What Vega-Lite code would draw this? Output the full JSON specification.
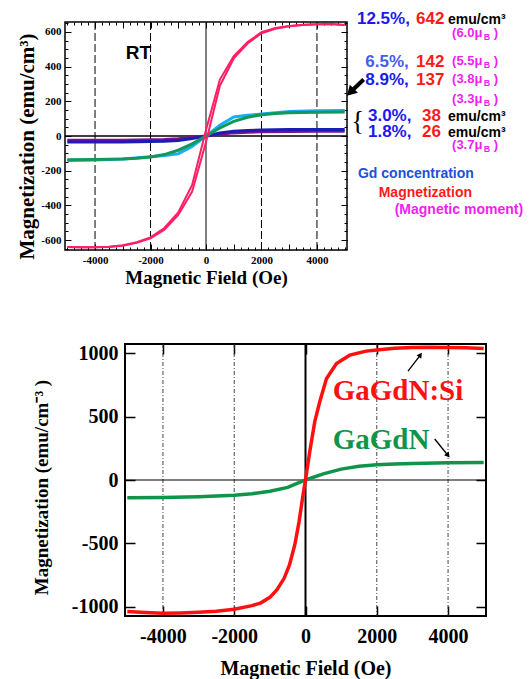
{
  "$schema": "https://vega.github.io/schema/vega-lite/v6.json",
  "background": "white",
  "padding": {"left": 15, "top": 9, "right": 0, "bottom": 0},
  "spacing": 54,
  "config": {
    "axis": {"domain": false, "grid": false, "tickColor": "black", "labelColor": "black", "titleColor": "black", "labelFont": "Liberation Serif", "titleFont": "Liberation Serif", "labelFontWeight": "bold", "titleFontWeight": "bold", "labelOverlap": false, "labelFlush": false, "labelBound": false},
    "text": {"font": "Liberation Sans", "fontWeight": "bold"}
  },
  "datasets": {
    "tgrid": [{"H": -4000}, {"H": -2000}, {"H": 2000}, {"H": 4000}],
    "zero": [{"H": 0, "M": 0}],
    "tcurves": [
      {"s": "u", "H": -5000, "M": -24}, {"s": "u", "H": -4000, "M": -25}, {"s": "u", "H": -3000, "M": -24}, {"s": "u", "H": -2000, "M": -22}, {"s": "u", "H": -1500, "M": -20}, {"s": "u", "H": -1000, "M": -16}, {"s": "u", "H": -500, "M": -9}, {"s": "u", "H": 0, "M": 0}, {"s": "u", "H": 500, "M": 10}, {"s": "u", "H": 1000, "M": 18}, {"s": "u", "H": 1500, "M": 22}, {"s": "u", "H": 2000, "M": 24}, {"s": "u", "H": 3000, "M": 26}, {"s": "u", "H": 4000, "M": 27}, {"s": "u", "H": 5000, "M": 28},
      {"s": "b", "H": -5000, "M": -35}, {"s": "b", "H": -4000, "M": -35}, {"s": "b", "H": -3000, "M": -34}, {"s": "b", "H": -2000, "M": -32}, {"s": "b", "H": -1500, "M": -30}, {"s": "b", "H": -1000, "M": -26}, {"s": "b", "H": -500, "M": -15}, {"s": "b", "H": 0, "M": 0}, {"s": "b", "H": 500, "M": 17}, {"s": "b", "H": 1000, "M": 28}, {"s": "b", "H": 1500, "M": 32}, {"s": "b", "H": 2000, "M": 34}, {"s": "b", "H": 3000, "M": 37}, {"s": "b", "H": 4000, "M": 38}, {"s": "b", "H": 5000, "M": 38},
      {"s": "c", "H": -5000, "M": -141}, {"s": "c", "H": -4000, "M": -139}, {"s": "c", "H": -3000, "M": -133}, {"s": "c", "H": -2000, "M": -120}, {"s": "c", "H": -1500, "M": -112}, {"s": "c", "H": -1000, "M": -103}, {"s": "c", "H": -500, "M": -60}, {"s": "c", "H": 0, "M": 0}, {"s": "c", "H": 500, "M": 62}, {"s": "c", "H": 1000, "M": 110}, {"s": "c", "H": 1500, "M": 119}, {"s": "c", "H": 2000, "M": 127}, {"s": "c", "H": 3000, "M": 141}, {"s": "c", "H": 4000, "M": 146}, {"s": "c", "H": 5000, "M": 147},
      {"s": "g", "H": -5000, "M": -137}, {"s": "g", "H": -4000, "M": -136}, {"s": "g", "H": -3000, "M": -132}, {"s": "g", "H": -2500, "M": -128}, {"s": "g", "H": -2000, "M": -121}, {"s": "g", "H": -1500, "M": -107}, {"s": "g", "H": -1000, "M": -82}, {"s": "g", "H": -500, "M": -45}, {"s": "g", "H": 0, "M": 0}, {"s": "g", "H": 500, "M": 46}, {"s": "g", "H": 1000, "M": 84}, {"s": "g", "H": 1500, "M": 108}, {"s": "g", "H": 2000, "M": 122}, {"s": "g", "H": 2500, "M": 130}, {"s": "g", "H": 3000, "M": 134}, {"s": "g", "H": 4000, "M": 137}, {"s": "g", "H": 5000, "M": 138},
      {"s": "p", "b": "a", "H": -5000, "M": -640}, {"s": "p", "b": "a", "H": -4500, "M": -641}, {"s": "p", "b": "a", "H": -4000, "M": -641}, {"s": "p", "b": "a", "H": -3500, "M": -638}, {"s": "p", "b": "a", "H": -3000, "M": -630}, {"s": "p", "b": "a", "H": -2500, "M": -612}, {"s": "p", "b": "a", "H": -2000, "M": -584}, {"s": "p", "b": "a", "H": -1500, "M": -530}, {"s": "p", "b": "a", "H": -1000, "M": -440}, {"s": "p", "b": "a", "H": -500, "M": -282}, {"s": "p", "b": "a", "H": 0, "M": 35}, {"s": "p", "b": "a", "H": 500, "M": 325}, {"s": "p", "b": "a", "H": 1000, "M": 460}, {"s": "p", "b": "a", "H": 1500, "M": 541}, {"s": "p", "b": "a", "H": 2000, "M": 598}, {"s": "p", "b": "a", "H": 2500, "M": 622}, {"s": "p", "b": "a", "H": 3000, "M": 634}, {"s": "p", "b": "a", "H": 3500, "M": 641}, {"s": "p", "b": "a", "H": 4000, "M": 644}, {"s": "p", "b": "a", "H": 4500, "M": 645}, {"s": "p", "b": "a", "H": 5000, "M": 640},
      {"s": "p", "b": "b", "H": -5000, "M": -640}, {"s": "p", "b": "b", "H": -4500, "M": -641}, {"s": "p", "b": "b", "H": -4000, "M": -641}, {"s": "p", "b": "b", "H": -3500, "M": -639}, {"s": "p", "b": "b", "H": -3000, "M": -632}, {"s": "p", "b": "b", "H": -2500, "M": -616}, {"s": "p", "b": "b", "H": -2000, "M": -590}, {"s": "p", "b": "b", "H": -1500, "M": -540}, {"s": "p", "b": "b", "H": -1000, "M": -455}, {"s": "p", "b": "b", "H": -500, "M": -320}, {"s": "p", "b": "b", "H": 0, "M": -35}, {"s": "p", "b": "b", "H": 500, "M": 290}, {"s": "p", "b": "b", "H": 1000, "M": 447}, {"s": "p", "b": "b", "H": 1500, "M": 533}, {"s": "p", "b": "b", "H": 2000, "M": 592}, {"s": "p", "b": "b", "H": 2500, "M": 618}, {"s": "p", "b": "b", "H": 3000, "M": 632}, {"s": "p", "b": "b", "H": 3500, "M": 640}, {"s": "p", "b": "b", "H": 4000, "M": 644}, {"s": "p", "b": "b", "H": 4500, "M": 645}, {"s": "p", "b": "b", "H": 5000, "M": 640}
    ],
    "t17": [
      {"t": "12.5%,", "H": 5442, "M": 646, "r": "conc"},
      {"t": "642", "H": 7571, "M": 646, "r": "mag"},
      {"t": "6.5%,", "H": 5742, "M": 397, "r": "conc2"},
      {"t": "142", "H": 7571, "M": 397, "r": "mag"},
      {"t": "8.9%,", "H": 5742, "M": 295, "r": "conc"},
      {"t": "137", "H": 7571, "M": 295, "r": "mag"},
      {"t": "3.0%,", "H": 5839, "M": 86, "r": "conc"},
      {"t": "38", "H": 7787, "M": 86, "r": "mag"},
      {"t": "1.8%,", "H": 5839, "M": -6, "r": "conc"},
      {"t": "26", "H": 7787, "M": -6, "r": "mag"}
    ],
    "t14": [
      {"t": "emu/cm³", "H": 8726, "M": 646, "r": "unit"},
      {"t": "emu/cm³", "H": 8726, "M": 86, "r": "unit"},
      {"t": "emu/cm³", "H": 8726, "M": -6, "r": "unit"},
      {"t": "Gd concentration", "H": 5478, "M": -242, "r": "legc"},
      {"t": "Magnetization", "H": 6225, "M": -351, "r": "legm"},
      {"t": "(Magnetic moment)", "H": 6803, "M": -449, "r": "legmom"}
    ],
    "t13": [
      {"t": "(6.0μ", "H": 8870, "M": 570}, {"t": ")", "H": 10375, "M": 570},
      {"t": "(5.5μ", "H": 8870, "M": 408}, {"t": ")", "H": 10375, "M": 408},
      {"t": "(3.8μ", "H": 8870, "M": 307}, {"t": ")", "H": 10375, "M": 307},
      {"t": "(3.3μ", "H": 8870, "M": 190}, {"t": ")", "H": 10375, "M": 190},
      {"t": "(3.7μ", "H": 8870, "M": -75}, {"t": ")", "H": 10375, "M": -75}
    ],
    "tsub": [
      {"t": "B", "H": 10015, "M": 570}, {"t": "B", "H": 10015, "M": 408}, {"t": "B", "H": 10015, "M": 307}, {"t": "B", "H": 10015, "M": 190}, {"t": "B", "H": 10015, "M": -75}
    ],
    "trt": [{"t": "RT", "H": -2894, "M": 443}],
    "tbrace": [{"t": "{", "H": 5236, "M": 81}],
    "tarrow": [{"H": 5684, "M": 326, "H2": 5247, "M2": 259}],
    "thead": [{"H": 5247, "M": 259}],
    "bgrid": [{"H": -4000}, {"H": -2000}, {"H": 2000}, {"H": 4000}],
    "bcurves": [
      {"s": "GaGdN", "H": -5000, "M": -140}, {"s": "GaGdN", "H": -4000, "M": -137}, {"s": "GaGdN", "H": -3000, "M": -132}, {"s": "GaGdN", "H": -2500, "M": -127}, {"s": "GaGdN", "H": -2000, "M": -121}, {"s": "GaGdN", "H": -1500, "M": -108}, {"s": "GaGdN", "H": -1000, "M": -88}, {"s": "GaGdN", "H": -500, "M": -58}, {"s": "GaGdN", "H": 0, "M": 0}, {"s": "GaGdN", "H": 500, "M": 48}, {"s": "GaGdN", "H": 1000, "M": 86}, {"s": "GaGdN", "H": 1500, "M": 108}, {"s": "GaGdN", "H": 2000, "M": 120}, {"s": "GaGdN", "H": 2500, "M": 127}, {"s": "GaGdN", "H": 3000, "M": 131}, {"s": "GaGdN", "H": 4000, "M": 136}, {"s": "GaGdN", "H": 5000, "M": 137},
      {"s": "GaGdN:Si", "H": -5000, "M": -1037}, {"s": "GaGdN:Si", "H": -4500, "M": -1045}, {"s": "GaGdN:Si", "H": -4000, "M": -1050}, {"s": "GaGdN:Si", "H": -3500, "M": -1048}, {"s": "GaGdN:Si", "H": -3000, "M": -1043}, {"s": "GaGdN:Si", "H": -2500, "M": -1035}, {"s": "GaGdN:Si", "H": -2000, "M": -1018}, {"s": "GaGdN:Si", "H": -1500, "M": -990}, {"s": "GaGdN:Si", "H": -1250, "M": -968}, {"s": "GaGdN:Si", "H": -1000, "M": -925}, {"s": "GaGdN:Si", "H": -800, "M": -865}, {"s": "GaGdN:Si", "H": -600, "M": -775}, {"s": "GaGdN:Si", "H": -450, "M": -670}, {"s": "GaGdN:Si", "H": -300, "M": -510}, {"s": "GaGdN:Si", "H": -180, "M": -328}, {"s": "GaGdN:Si", "H": -70, "M": -118}, {"s": "GaGdN:Si", "H": 0, "M": 0}, {"s": "GaGdN:Si", "H": 120, "M": 225}, {"s": "GaGdN:Si", "H": 260, "M": 460}, {"s": "GaGdN:Si", "H": 400, "M": 617}, {"s": "GaGdN:Si", "H": 590, "M": 800}, {"s": "GaGdN:Si", "H": 870, "M": 918}, {"s": "GaGdN:Si", "H": 1240, "M": 984}, {"s": "GaGdN:Si", "H": 1700, "M": 1016}, {"s": "GaGdN:Si", "H": 2000, "M": 1025}, {"s": "GaGdN:Si", "H": 2500, "M": 1038}, {"s": "GaGdN:Si", "H": 3000, "M": 1045}, {"s": "GaGdN:Si", "H": 3500, "M": 1047}, {"s": "GaGdN:Si", "H": 4000, "M": 1045}, {"s": "GaGdN:Si", "H": 4500, "M": 1042}, {"s": "GaGdN:Si", "H": 5000, "M": 1036}
    ],
    "bann": [{"t": "GaGdN:Si", "H": 763, "M": 632, "s": "GaGdN:Si"}, {"t": "GaGdN", "H": 763, "M": 241, "s": "GaGdN"}],
    "barrow": [{"H": 2877, "M": 858, "H2": 3211, "M2": 981}, {"H": 3626, "M": 323, "H2": 3983, "M2": 199}],
    "bhead1": [{"H": 3211, "M": 981}],
    "bhead2": [{"H": 3983, "M": 199}]
  },
  "vconcat": [
    {
      "spacing": 0,
      "hconcat": [
        {
          "width": 1,
          "height": 10,
          "view": {"stroke": null},
          "data": {"values": [{"a": 1}]},
          "mark": {"type": "text"},
          "encoding": {"text": {"value": ""}}
        },
        {
          "width": 282,
          "height": 228,
          "view": {"stroke": "black", "strokeWidth": 1.5},
          "layer": [
            {
              "data": {"name": "tgrid"},
              "mark": {"type": "rule", "color": "black", "strokeWidth": 1, "strokeDash": [8, 3]},
              "encoding": {
                "x": {"field": "H", "type": "quantitative", "scale": {"domain": [-5083, 5083], "nice": false, "zero": false}, "axis": null}
              }
            },
            {
              "data": {"name": "zero"},
              "mark": {"type": "rule", "color": "black", "strokeWidth": 1},
              "encoding": {
                "x": {"field": "H", "type": "quantitative", "scale": {"domain": [-5083, 5083], "nice": false, "zero": false}, "axis": null}
              }
            },
            {
              "data": {"name": "zero"},
              "mark": {"type": "rule", "color": "black", "strokeWidth": 1.5},
              "encoding": {
                "y": {"field": "M", "type": "quantitative", "scale": {"domain": [-657, 657], "nice": false, "zero": false}, "axis": null}
              }
            },
            {
              "data": {"name": "tcurves"},
              "transform": [{"filter": {"field": "s", "oneOf": ["u", "b", "c", "g"]}}],
              "mark": {"type": "line", "strokeWidth": 3, "clip": true},
              "encoding": {
                "x": {"field": "H", "type": "quantitative", "scale": {"domain": [-5083, 5083], "nice": false, "zero": false},
                  "axis": {"orient": "bottom", "values": [-4000, -3000, -2000, -1000, 0, 1000, 2000, 3000, 4000], "tickSize": -6, "tickWidth": 1, "labelExpr": "datum.value % 2000 === 0 ? '' + datum.value : ''", "labelFontSize": 11, "labelPadding": 10, "title": "Magnetic Field (Oe)", "titleFontSize": 19, "titlePadding": 3}},
                "y": {"field": "M", "type": "quantitative", "scale": {"domain": [-657, 657], "nice": false, "zero": false},
                  "axis": {"orient": "left", "values": [-600, -400, -200, 0, 200, 400, 600], "tickSize": -6, "labelExpr": "'' + datum.value", "labelFontSize": 11, "labelPadding": 10, "title": "Magnetization (emu/cm³)", "titleFontSize": 21, "titlePadding": 3, "titleY": 124}},
                "color": {"field": "s", "type": "nominal", "scale": {"domain": ["u", "b", "c", "g"], "range": ["#7d1090", "#1c1cb4", "#16b0f2", "#14975a"]}, "legend": null}
              }
            },
            {
              "data": {"name": "tcurves"},
              "transform": [{"filter": {"field": "s", "equal": "p"}}],
              "mark": {"type": "line", "strokeWidth": 2, "color": "#ff1f64", "clip": true},
              "encoding": {
                "x": {"field": "H", "type": "quantitative", "scale": {"domain": [-5083, 5083], "nice": false, "zero": false},
                  "axis": {"orient": "top", "values": [-4000, -3000, -2000, -1000, 0, 1000, 2000, 3000, 4000], "tickSize": -6, "labels": false, "title": null}},
                "y": {"field": "M", "type": "quantitative", "scale": {"domain": [-657, 657], "nice": false, "zero": false},
                  "axis": {"orient": "right", "values": [-600, -400, -200, 0, 200, 400, 600], "tickSize": -6, "labels": false, "title": null}},
                "detail": {"field": "b", "type": "nominal"}
              }
            },
            {
              "data": {"name": "t17"},
              "mark": {"type": "text", "align": "left", "baseline": "alphabetic", "fontSize": 17},
              "encoding": {
                "x": {"field": "H", "type": "quantitative", "scale": {"domain": [-5083, 5083], "nice": false, "zero": false},
                  "axis": {"orient": "bottom", "values": [-5000, -4750, -4500, -4250, -4000, -3750, -3500, -3250, -3000, -2750, -2500, -2250, -2000, -1750, -1500, -1250, -1000, -750, -500, -250, 0, 250, 500, 750, 1000, 1250, 1500, 1750, 2000, 2250, 2500, 2750, 3000, 3250, 3500, 3750, 4000, 4250, 4500, 4750, 5000], "tickSize": -3, "labels": false, "title": null}},
                "y": {"field": "M", "type": "quantitative", "scale": {"domain": [-657, 657], "nice": false, "zero": false},
                  "axis": {"orient": "left", "values": [-650, -600, -550, -500, -450, -400, -350, -300, -250, -200, -150, -100, -50, 0, 50, 100, 150, 200, 250, 300, 350, 400, 450, 500, 550, 600, 650], "tickSize": -3, "labels": false, "title": null}},
                "text": {"field": "t"},
                "color": {"field": "r", "type": "nominal", "scale": {"domain": ["conc", "conc2", "mag"], "range": ["#1a1af0", "#4a5af0", "#ff1a1a"]}, "legend": null}
              }
            },
            {
              "data": {"name": "t14"},
              "mark": {"type": "text", "align": "left", "baseline": "alphabetic", "fontSize": 14},
              "encoding": {
                "x": {"field": "H", "type": "quantitative", "scale": {"domain": [-5083, 5083], "nice": false, "zero": false},
                  "axis": {"orient": "top", "values": [-5000, -4750, -4500, -4250, -4000, -3750, -3500, -3250, -3000, -2750, -2500, -2250, -2000, -1750, -1500, -1250, -1000, -750, -500, -250, 0, 250, 500, 750, 1000, 1250, 1500, 1750, 2000, 2250, 2500, 2750, 3000, 3250, 3500, 3750, 4000, 4250, 4500, 4750, 5000], "tickSize": -3, "labels": false, "title": null}},
                "y": {"field": "M", "type": "quantitative", "scale": {"domain": [-657, 657], "nice": false, "zero": false},
                  "axis": {"orient": "right", "values": [-650, -600, -550, -500, -450, -400, -350, -300, -250, -200, -150, -100, -50, 0, 50, 100, 150, 200, 250, 300, 350, 400, 450, 500, 550, 600, 650], "tickSize": -3, "labels": false, "title": null}},
                "text": {"field": "t"},
                "color": {"field": "r", "type": "nominal", "scale": {"domain": ["unit", "legc", "legm", "legmom"], "range": ["#000000", "#1f50d8", "#ff1a1a", "#f01ef0"]}, "legend": null}
              }
            },
            {
              "data": {"name": "t13"},
              "mark": {"type": "text", "align": "left", "baseline": "alphabetic", "fontSize": 13, "color": "#f01ef0"},
              "encoding": {
                "x": {"field": "H", "type": "quantitative", "scale": {"domain": [-5083, 5083], "nice": false, "zero": false}, "axis": null},
                "y": {"field": "M", "type": "quantitative", "scale": {"domain": [-657, 657], "nice": false, "zero": false}, "axis": null},
                "text": {"field": "t"}
              }
            },
            {
              "data": {"name": "tsub"},
              "mark": {"type": "text", "align": "left", "baseline": "alphabetic", "fontSize": 9, "dy": 3, "color": "#f01ef0"},
              "encoding": {
                "x": {"field": "H", "type": "quantitative", "scale": {"domain": [-5083, 5083], "nice": false, "zero": false}, "axis": null},
                "y": {"field": "M", "type": "quantitative", "scale": {"domain": [-657, 657], "nice": false, "zero": false}, "axis": null},
                "text": {"field": "t"}
              }
            },
            {
              "data": {"name": "trt"},
              "mark": {"type": "text", "align": "left", "baseline": "alphabetic", "fontSize": 19, "color": "black"},
              "encoding": {
                "x": {"field": "H", "type": "quantitative", "scale": {"domain": [-5083, 5083], "nice": false, "zero": false}, "axis": null},
                "y": {"field": "M", "type": "quantitative", "scale": {"domain": [-657, 657], "nice": false, "zero": false}, "axis": null},
                "text": {"field": "t"}
              }
            },
            {
              "data": {"name": "tbrace"},
              "mark": {"type": "text", "align": "left", "baseline": "middle", "fontSize": 27, "font": "Liberation Serif", "fontWeight": "normal", "color": "black"},
              "encoding": {
                "x": {"field": "H", "type": "quantitative", "scale": {"domain": [-5083, 5083], "nice": false, "zero": false}, "axis": null},
                "y": {"field": "M", "type": "quantitative", "scale": {"domain": [-657, 657], "nice": false, "zero": false}, "axis": null},
                "text": {"field": "t"}
              }
            },
            {
              "data": {"name": "tarrow"},
              "mark": {"type": "rule", "color": "black", "strokeWidth": 4},
              "encoding": {
                "x": {"field": "H", "type": "quantitative", "scale": {"domain": [-5083, 5083], "nice": false, "zero": false}, "axis": null},
                "y": {"field": "M", "type": "quantitative", "scale": {"domain": [-657, 657], "nice": false, "zero": false}, "axis": null},
                "x2": {"field": "H2"},
                "y2": {"field": "M2"}
              }
            },
            {
              "data": {"name": "thead"},
              "mark": {"type": "point", "shape": "triangle", "filled": true, "color": "black", "opacity": 1, "size": 130, "angle": 225},
              "encoding": {
                "x": {"field": "H", "type": "quantitative", "scale": {"domain": [-5083, 5083], "nice": false, "zero": false}, "axis": null},
                "y": {"field": "M", "type": "quantitative", "scale": {"domain": [-657, 657], "nice": false, "zero": false}, "axis": null}
              }
            }
          ],
          "resolve": {"axis": {"x": "independent", "y": "independent"}, "scale": {"color": "independent"}}
        }
      ]
    },
    {
      "spacing": 0,
      "hconcat": [
        {
          "width": 1,
          "height": 10,
          "view": {"stroke": null},
          "data": {"values": [{"a": 1}]},
          "mark": {"type": "text"},
          "encoding": {"text": {"value": ""}}
        },
        {
          "width": 361,
          "height": 272,
          "view": {"stroke": "black", "strokeWidth": 2},
          "layer": [
            {
              "data": {"name": "bgrid"},
              "mark": {"type": "rule", "color": "#333333", "strokeWidth": 0.9, "strokeDash": [4, 2, 1, 2]},
              "encoding": {
                "x": {"field": "H", "type": "quantitative", "scale": {"domain": [-5065, 5065], "nice": false, "zero": false}, "axis": null}
              }
            },
            {
              "data": {"name": "zero"},
              "mark": {"type": "rule", "color": "black", "strokeWidth": 2},
              "encoding": {
                "x": {"field": "H", "type": "quantitative", "scale": {"domain": [-5065, 5065], "nice": false, "zero": false}, "axis": null}
              }
            },
            {
              "data": {"name": "zero"},
              "mark": {"type": "rule", "color": "black", "strokeWidth": 1.2},
              "encoding": {
                "y": {"field": "M", "type": "quantitative", "scale": {"domain": [-1072, 1072], "nice": false, "zero": false}, "axis": null}
              }
            },
            {
              "data": {"name": "bcurves"},
              "mark": {"type": "line", "strokeWidth": 3.5, "clip": true},
              "encoding": {
                "x": {"field": "H", "type": "quantitative", "scale": {"domain": [-5065, 5065], "nice": false, "zero": false},
                  "axis": {"orient": "bottom", "values": [-4000, -2000, 0, 2000, 4000], "tickSize": -10, "tickWidth": 1.5, "labelExpr": "'' + datum.value", "labelFontSize": 20, "labelPadding": 20, "title": "Magnetic Field (Oe)", "titleFontSize": 20, "titlePadding": 12}},
                "y": {"field": "M", "type": "quantitative", "scale": {"domain": [-1072, 1072], "nice": false, "zero": false},
                  "axis": {"orient": "left", "values": [-1000, -500, 0, 500, 1000], "tickSize": -10, "tickWidth": 1.5, "labelExpr": "'' + datum.value", "labelFontSize": 20, "labelPadding": 17, "title": ["", "Magnetization (emu/cm⁻³ )"], "titleLineHeight": 15, "titleFontSize": 19, "titlePadding": 20, "titleY": 143}},
                "color": {"field": "s", "type": "nominal", "scale": {"domain": ["GaGdN", "GaGdN:Si"], "range": ["#10944a", "#ff1010"]}, "legend": null}
              }
            },
            {
              "data": {"name": "bann"},
              "mark": {"type": "text", "align": "left", "baseline": "alphabetic", "fontSize": 29, "font": "Liberation Serif", "fontWeight": "bold"},
              "encoding": {
                "x": {"field": "H", "type": "quantitative", "scale": {"domain": [-5065, 5065], "nice": false, "zero": false},
                  "axis": {"orient": "top", "values": [-4000, -2000, 0, 2000, 4000], "tickSize": -10, "tickWidth": 1.5, "labels": false, "title": null}},
                "y": {"field": "M", "type": "quantitative", "scale": {"domain": [-1072, 1072], "nice": false, "zero": false},
                  "axis": {"orient": "right", "values": [-1000, -500, 0, 500, 1000], "tickSize": -10, "tickWidth": 1.5, "labels": false, "title": null}},
                "text": {"field": "t"},
                "color": {"field": "s", "type": "nominal", "scale": {"domain": ["GaGdN", "GaGdN:Si"], "range": ["#10944a", "#ff1010"]}, "legend": null}
              }
            },
            {
              "data": {"name": "barrow"},
              "mark": {"type": "rule", "color": "black", "strokeWidth": 1.3},
              "encoding": {
                "x": {"field": "H", "type": "quantitative", "scale": {"domain": [-5065, 5065], "nice": false, "zero": false}, "axis": null},
                "y": {"field": "M", "type": "quantitative", "scale": {"domain": [-1072, 1072], "nice": false, "zero": false}, "axis": null},
                "x2": {"field": "H2"},
                "y2": {"field": "M2"}
              }
            },
            {
              "data": {"name": "bhead1"},
              "mark": {"type": "point", "shape": "triangle", "filled": true, "color": "black", "opacity": 1, "size": 35, "angle": 37},
              "encoding": {
                "x": {"field": "H", "type": "quantitative", "scale": {"domain": [-5065, 5065], "nice": false, "zero": false}, "axis": null},
                "y": {"field": "M", "type": "quantitative", "scale": {"domain": [-1072, 1072], "nice": false, "zero": false}, "axis": null}
              }
            },
            {
              "data": {"name": "bhead2"},
              "mark": {"type": "point", "shape": "triangle", "filled": true, "color": "black", "opacity": 1, "size": 35, "angle": 141},
              "encoding": {
                "x": {"field": "H", "type": "quantitative", "scale": {"domain": [-5065, 5065], "nice": false, "zero": false}, "axis": null},
                "y": {"field": "M", "type": "quantitative", "scale": {"domain": [-1072, 1072], "nice": false, "zero": false}, "axis": null}
              }
            }
          ],
          "resolve": {"axis": {"x": "independent", "y": "independent"}, "scale": {"color": "independent"}}
        }
      ]
    }
  ]
}
